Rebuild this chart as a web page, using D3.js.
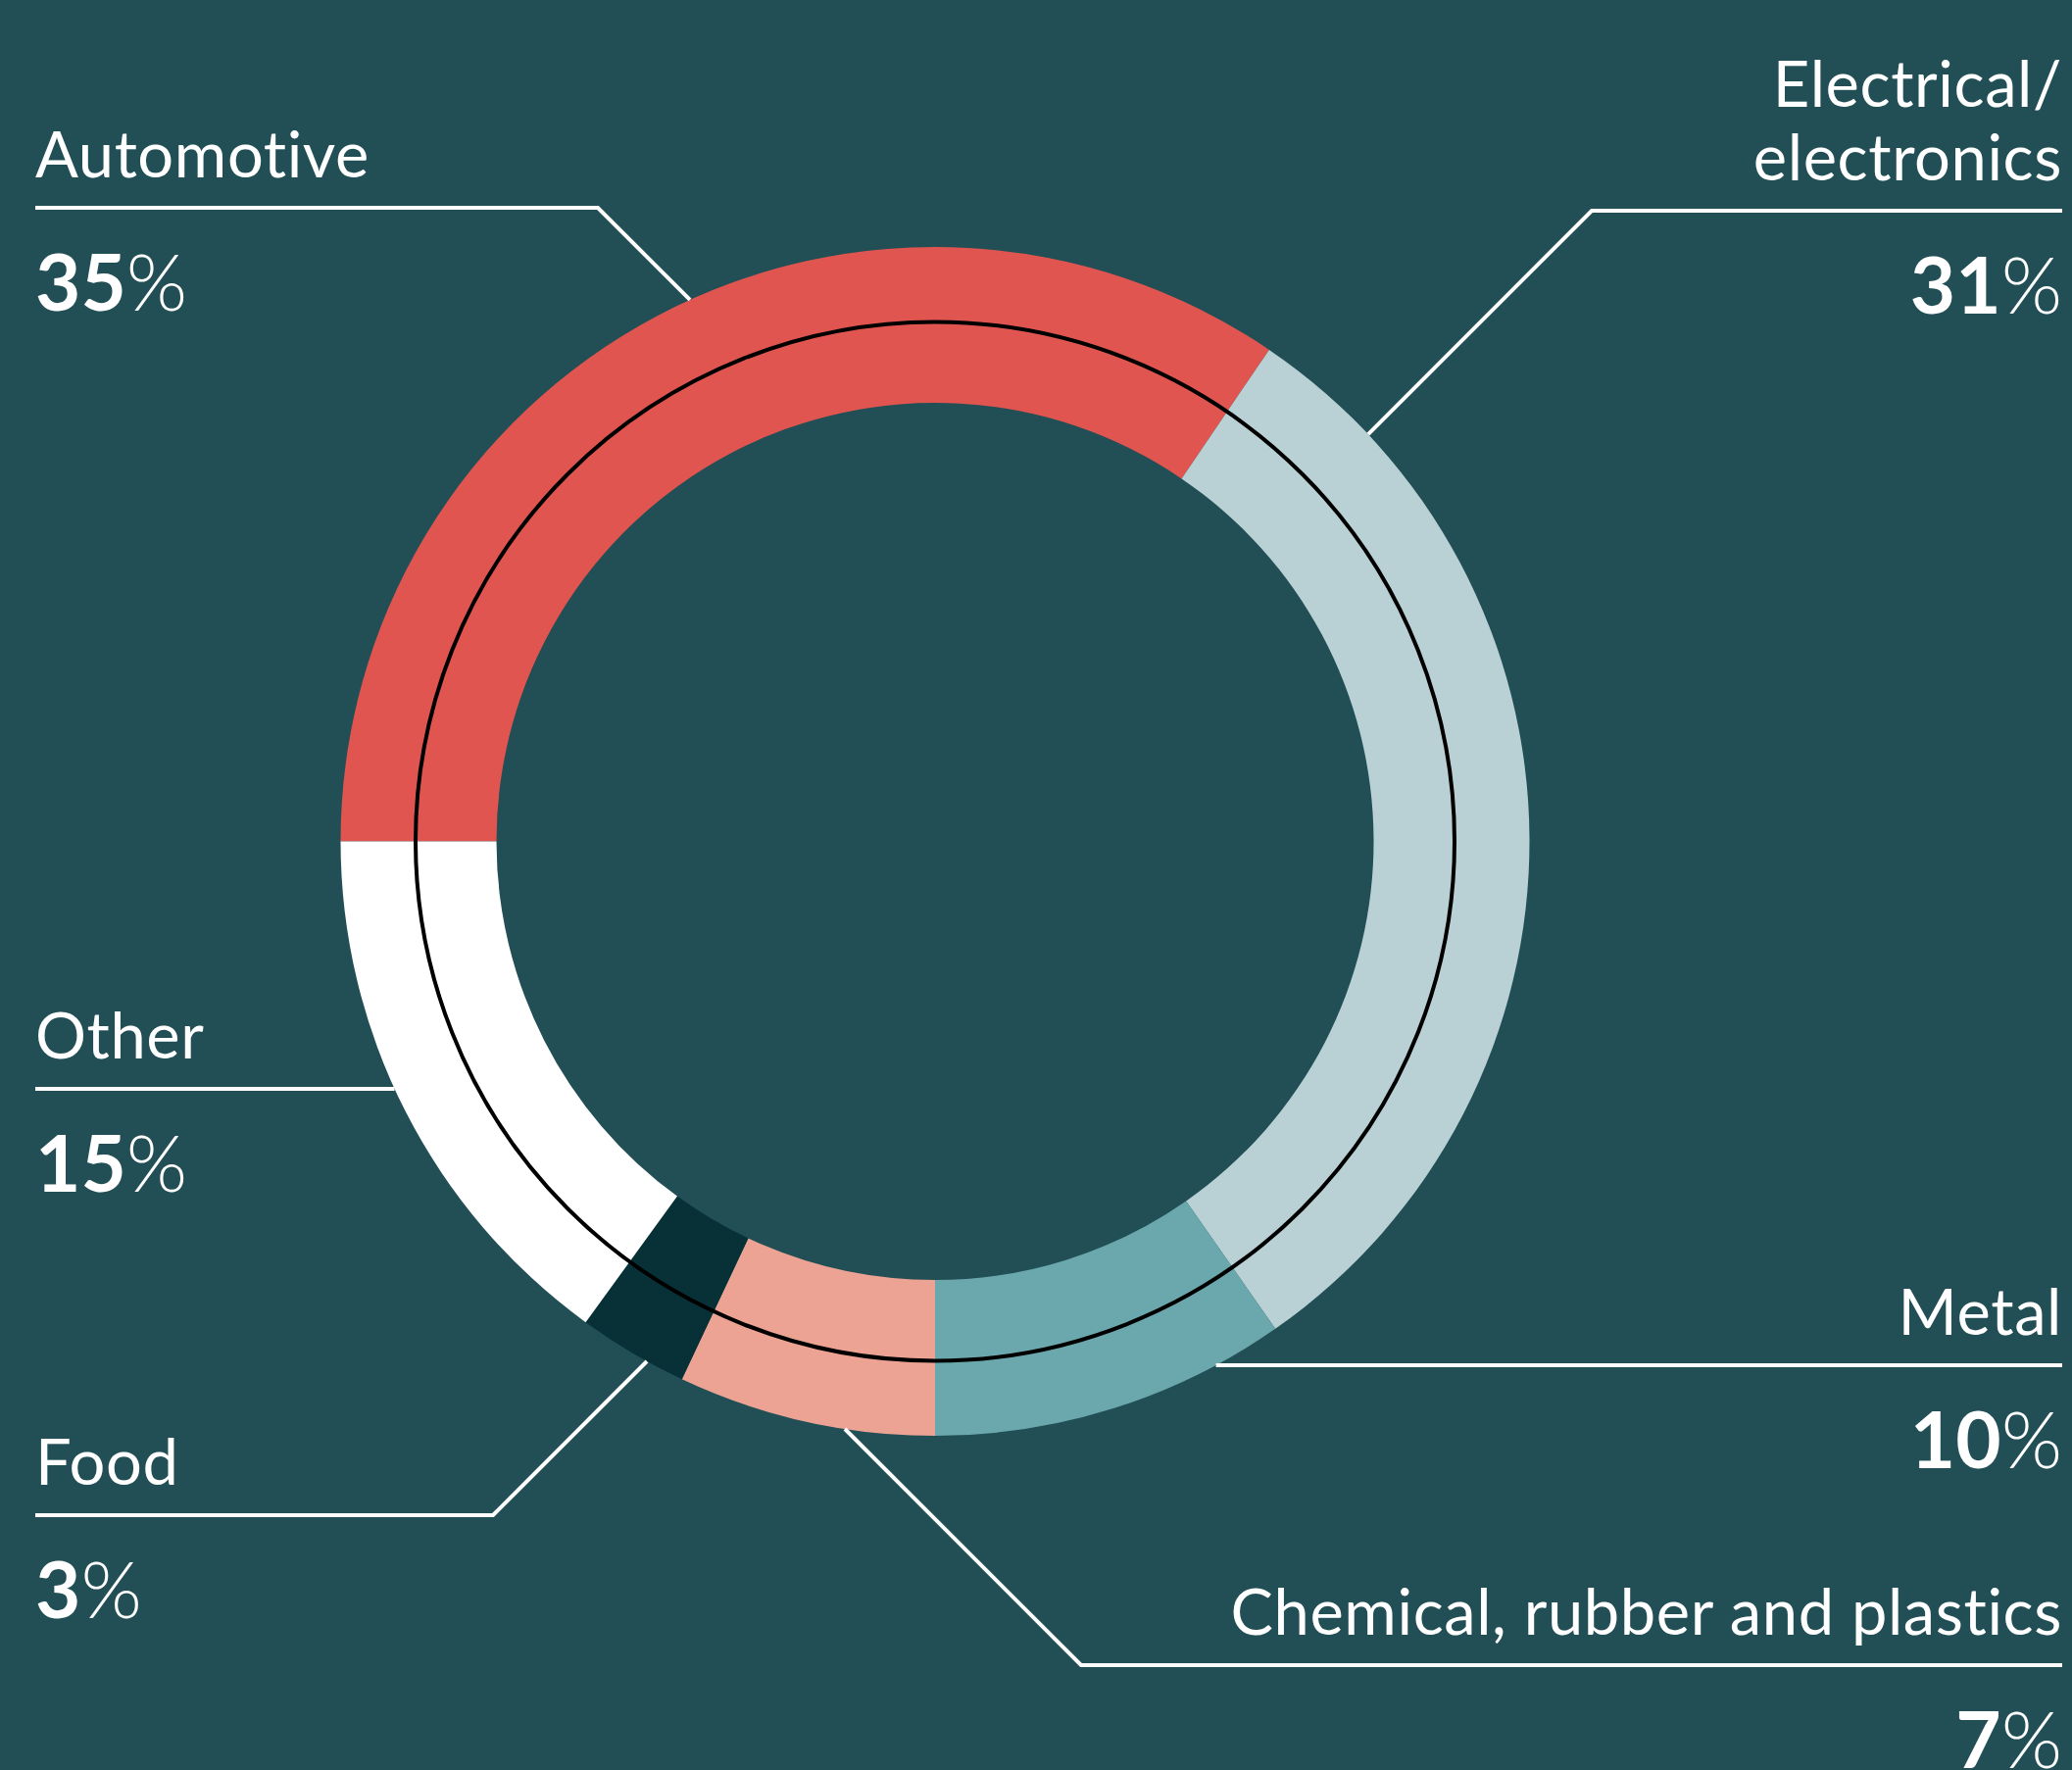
<!DOCTYPE html>
<html>
<head>
<meta charset="utf-8">
<script src="https://cdn.jsdelivr.net/npm/d3@7"></script>
<style>
  html, body { margin: 0; padding: 0; background: #214F55; overflow: hidden; }
  svg { display: block; }
  text { font-variant-ligatures: none; font-feature-settings: "liga" 0; }
</style>
</head>
<body>
<div id="chart"></div>
<script>
// ------------------------------------
// Data
// ------------------------------------
const categories = ["Automotive", "Electrical/electronics", "Metal", "Chemical, rubber and plastics", "Food", "Other"];
const labelLines = [["Automotive"], ["Electrical/", "electronics"], ["Metal"], ["Chemical, rubber and plastics"], ["Food"], ["Other"]];
// shares (labels show them rounded)
const shares = [34.5, 30.8, 9.7, 7.0, 3.0, 15.0];
const colors = ["#E0554F", "#B9D1D4", "#6BA8AD", "#ECA394", "#073137", "#FFFFFF"];

// label placement (layout only)
const labelLayout = [
  { side: "left",  lineY: 212, elbowX: 610 },
  { side: "right", lineY: 215, elbowX: 1624 },
  { side: "right", lineY: 1393, elbowX: null },
  { side: "right", lineY: 1699, elbowX: 1103 },
  { side: "left",  lineY: 1546, elbowX: 503 },
  { side: "left",  lineY: 1111, elbowX: null }
];

// ------------------------------------
// Build chart
// ------------------------------------
const width = 2114;
const height = 1806;
const cx = 954, cy = 858.5;
const outerR = 606.5, innerR = 447.5, midR = 530;
const leftX = 36, rightX = 2104;

const svg = d3.select("#chart")
    .append("svg")
    .attr("width", width)
    .attr("height", height)
    .style("background", "#214F55");

const g = svg.append("g")
    .attr("transform", `translate(${cx},${cy})`);

// automotive starts at 9 o'clock, running clockwise
const pie = d3.pie()
    .sort(null)
    .value(d => d)
    .startAngle(-Math.PI / 2)
    .endAngle(1.5 * Math.PI);

const arc = d3.arc()
    .innerRadius(innerR)
    .outerRadius(outerR);

g.selectAll("path.slice")
    .data(pie(shares))
    .enter()
    .append("path")
    .attr("class", "slice")
    .attr("d", arc)
    .attr("fill", (d, i) => colors[i]);

// thin black circle through the middle of the ring
g.append("circle")
    .attr("r", midR)
    .attr("fill", "none")
    .attr("stroke", "#000")
    .attr("stroke-width", 4);

// ------------------------------------
// Leader lines + labels
// ------------------------------------
// walk from p along direction d until the outer edge of the ring
function hitRing(px, py, dx, dy) {
  const len = Math.hypot(dx, dy);
  dx /= len; dy /= len;
  const ox = px - cx, oy = py - cy;
  const b = ox * dx + oy * dy;
  const c = ox * ox + oy * oy - outerR * outerR;
  const t = -b - Math.sqrt(b * b - c);
  return [px + t * dx, py + t * dy];
}

const labels = svg.append("g");

labelLayout.forEach((L, i) => {
  const left = L.side === "left";
  const edgeX = left ? leftX : rightX;
  let pts;
  if (L.elbowX == null) {
    const end = hitRing(edgeX, L.lineY, left ? 1 : -1, 0);
    pts = [[edgeX, L.lineY], end];
  } else {
    const dx = L.elbowX < cx ? 1 : -1;
    const dy = L.lineY < cy ? 1 : -1;
    const end = hitRing(L.elbowX, L.lineY, dx, dy);
    pts = [[edgeX, L.lineY], [L.elbowX, L.lineY], end];
  }

  labels.append("path")
      .attr("d", d3.line()(pts))
      .attr("fill", "none")
      .attr("stroke", "#fff")
      .attr("stroke-width", 4);

  const anchor = left ? "start" : "end";
  const lines = labelLines[i];
  lines.forEach((t, k) => {
    labels.append("text")
        .attr("x", edgeX)
        .attr("y", L.lineY - 31 - (lines.length - 1 - k) * 75)
        .attr("text-anchor", anchor)
        .attr("fill", "#fff")
        .style("font-family", "Lato, sans-serif")
        .style("font-size", "65px")
        .style("font-weight", 400)
        .style("letter-spacing", "0.6px")
        .text(t);
  });

  const pct = labels.append("text")
      .attr("x", edgeX)
      .attr("y", L.lineY + 105)
      .attr("text-anchor", anchor)
      .attr("fill", "#fff")
      .style("font-family", "Lato, sans-serif")
      .style("font-size", "80px");
  pct.append("tspan").style("font-weight", 700).text(Math.round(shares[i]));
  pct.append("tspan").style("font-weight", 300).text("%");
});
</script>
</body>
</html>
